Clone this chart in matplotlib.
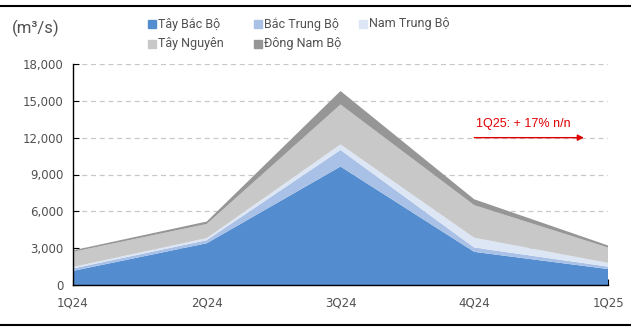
import matplotlib
matplotlib.use("Agg")
from matplotlib import pyplot as plt
from matplotlib.lines import Line2D
import numpy as np

# quarters and flow per region (m3/s)
QUARTERS = ["1Q24", "2Q24", "3Q24", "4Q24", "1Q25"]
TAY_BAC_BO = [1150, 3400, 9650, 2700, 1300]
BAC_TRUNG_BO = [200, 250, 1350, 350, 200]
NAM_TRUNG_BO = [120, 170, 450, 800, 300]
TAY_NGUYEN = [1230, 1150, 3250, 2650, 1250]
DONG_NAM_BO = [120, 200, 1100, 480, 170]

SERIES_NAMES = ["Tây Bắc Bộ", "Bắc Trung Bộ", "Nam Trung Bộ", "Tây Nguyên", "Đông Nam Bộ"]
COLORS = ["#538DD0", "#A9C1E6", "#DCE6F4", "#C8C8C8", "#969696"]
Y_TICKS = [0, 3000, 6000, 9000, 12000, 15000, 18000]
NOTE = "1Q25: + 17% n/n"

TEXT_COLOR = "#505050"

fig = plt.figure(figsize=(6.31, 3.32), dpi=100)
ax = fig.add_axes([73 / 631, 47 / 332, 535 / 631, 221 / 332])

x = np.arange(len(QUARTERS))
stacks = ax.stackplot(x, TAY_BAC_BO, BAC_TRUNG_BO, NAM_TRUNG_BO, TAY_NGUYEN, DONG_NAM_BO,
                      colors=COLORS, linewidth=0, zorder=2)

ax.set_xlim(0, len(QUARTERS) - 1)
ax.set_ylim(0, 18000)
ax.set_yticks(Y_TICKS)
ax.set_yticklabels(["{:,}".format(v) for v in Y_TICKS])
ax.set_xticks(x)
ax.set_xticklabels(QUARTERS)

ax.grid(axis="y", color="#C8C8C8", linestyle=(0, (4, 3)), linewidth=0.9, zorder=0)
ax.set_axisbelow(True)
for side in ["top", "right"]:
    ax.spines[side].set_visible(False)
for side in ["left", "bottom"]:
    ax.spines[side].set_color("black")
    ax.spines[side].set_linewidth(1.0)
    ax.spines[side].set_zorder(3)

ax.tick_params(axis="both", direction="in", length=4, colors="black",
               labelcolor=TEXT_COLOR, labelsize=8.5)
ax.tick_params(axis="x", pad=8)
ax.tick_params(axis="y", pad=7)

# unit label
fig.text(12 / 631, 1 - 28 / 332, "(m³/s)", fontsize=12, color=TEXT_COLOR,
         family="Roboto", va="center", ha="left")

# legend, laid out like the Excel one: fixed column width, row by row
for i, name in enumerate(SERIES_NAMES):
    col = i % 3
    row = i // 3
    lx = (152 + col * 105.5) / 631
    ly = 1 - (24 + row * 20) / 332
    fig.add_artist(Line2D([lx], [ly], transform=fig.transFigure, marker="s",
                          markersize=5.5, markerfacecolor=COLORS[i],
                          markeredgecolor=COLORS[i], linestyle="none"))
    fig.text(lx + 6 / 631, ly, name, fontsize=9, color=TEXT_COLOR,
             family="Roboto", ha="left", va="center")

# yoy note
ax.annotate("", xy=(3.82, 12000), xytext=(3.0, 12000),
            arrowprops=dict(arrowstyle="-|>", color="#E00000", lw=1.0,
                            mutation_scale=9, shrinkA=0, shrinkB=0), zorder=4)
ax.text(3.01, 13150, NOTE, color="#E00000", fontsize=9,
        family="Liberation Sans", ha="left", va="center", zorder=4)

# frame lines above and below
fig.add_artist(Line2D([0, 1], [1 - 6 / 332, 1 - 6 / 332], transform=fig.transFigure,
                      color="black", linewidth=1.5))
fig.add_artist(Line2D([0, 1], [1 - 325 / 332, 1 - 325 / 332], transform=fig.transFigure,
                      color="black", linewidth=1.5))

fig.savefig("out.png", dpi=100)
plt.close()
